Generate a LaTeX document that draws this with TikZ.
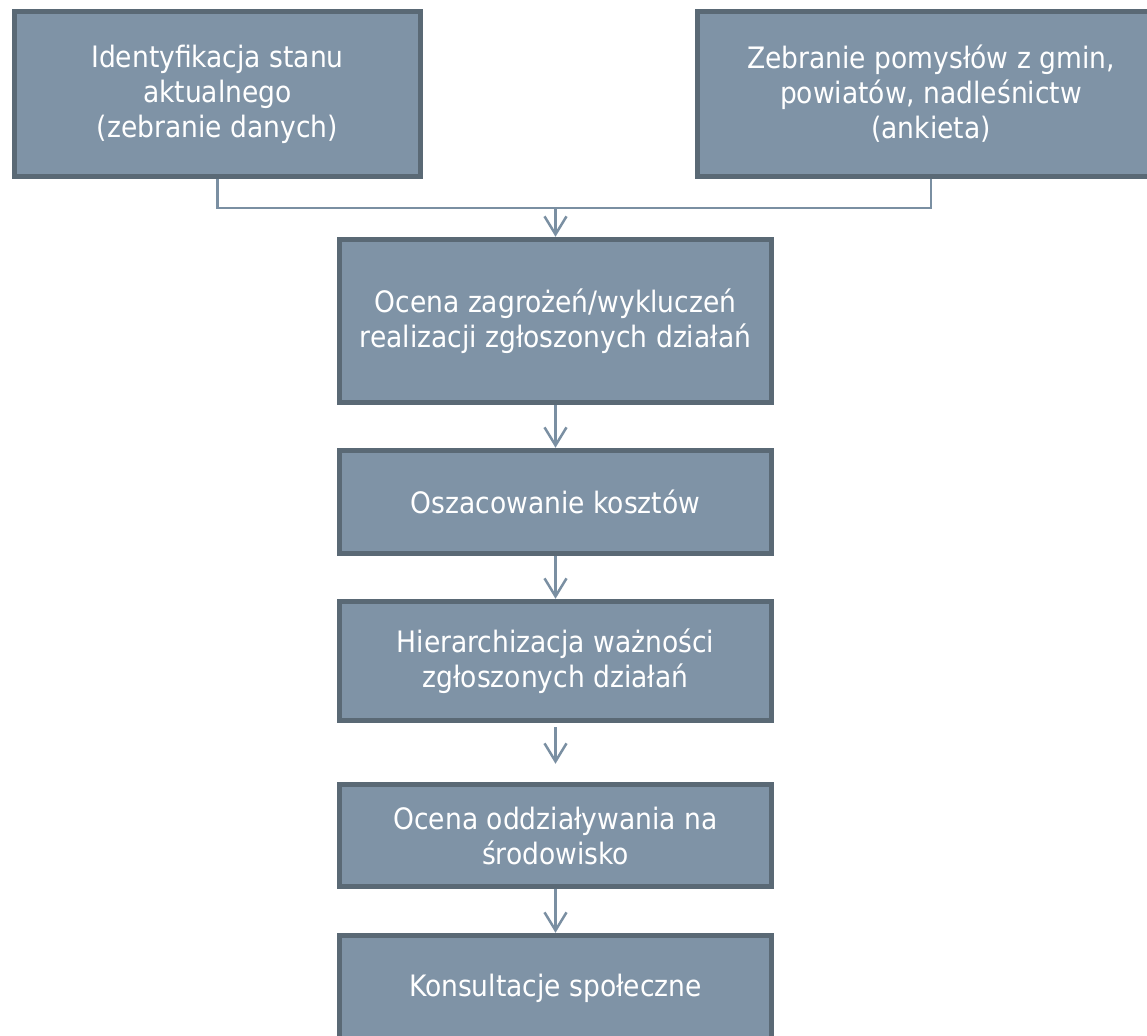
\documentclass[tikz,border=0pt]{standalone}
\usepackage{fontspec}
\setmainfont{DejaVu Sans Condensed}
\usetikzlibrary{arrows.meta}
\definecolor{boxfill}{HTML}{7F93A6}
\definecolor{boxline}{HTML}{5A6975}
\definecolor{linkcol}{HTML}{7A8FA2}

\begin{document}
\begin{tikzpicture}[x=1pt,y=-1pt,
        box/.style={draw=boxline, fill=boxfill, line width=5.5pt, text=white, align=center,
            font=\fontsize{29.5}{35}\selectfont, inner sep=0pt, minimum width=432pt},
        link/.style={draw=linkcol, line width=2.5pt},
        flow/.style={link, -{Straight Barb[length=18pt,width=22pt]}}]
        \useasboundingbox (0,0) rectangle (1147,1035);
        \clip (0,0) rectangle (1147,1035);

        \node[box, minimum width=406pt, minimum height=165pt] (stan) at (217.5,94)
            {Identyfikacja stanu\\aktualnego\\(zebranie danych)};
        \node[box, minimum width=467pt, minimum height=165pt] (ankieta) at (931,94)
            {Zebranie pomysłów z gmin,\\powiatów, nadleśnictw\\(ankieta)};
        \node[box, minimum height=163pt] (ocena) at (555.5,321)
            {Ocena zagrożeń/wykluczeń\\realizacji zgłoszonych działań};
        \node[box, minimum height=103pt] (koszty) at (555.5,502) {Oszacowanie kosztów};
        \node[box, minimum height=119pt] (hier) at (555.5,661)
            {Hierarchizacja ważności\\zgłoszonych działań};
        \node[box, minimum height=102pt] (srod) at (555.5,835.5)
            {Ocena oddziaływania na\\środowisko};
        \node[box, minimum height=105pt] (konsult) at (555.5,988) {Konsultacje społeczne};

        \coordinate (join) at (555.5,208);
        \draw[link] (stan.south) |- (join) -| (ankieta.south);
        \draw[flow] (join) -- (ocena.north);
        \draw[flow] (ocena) -- (koszty);
        \draw[flow] (koszty) -- (hier);
        \draw[flow, shorten <=4pt, shorten >=18pt] (hier) -- (srod);
        \draw[flow] (srod) -- (konsult);
    \end{tikzpicture}
\end{document}
